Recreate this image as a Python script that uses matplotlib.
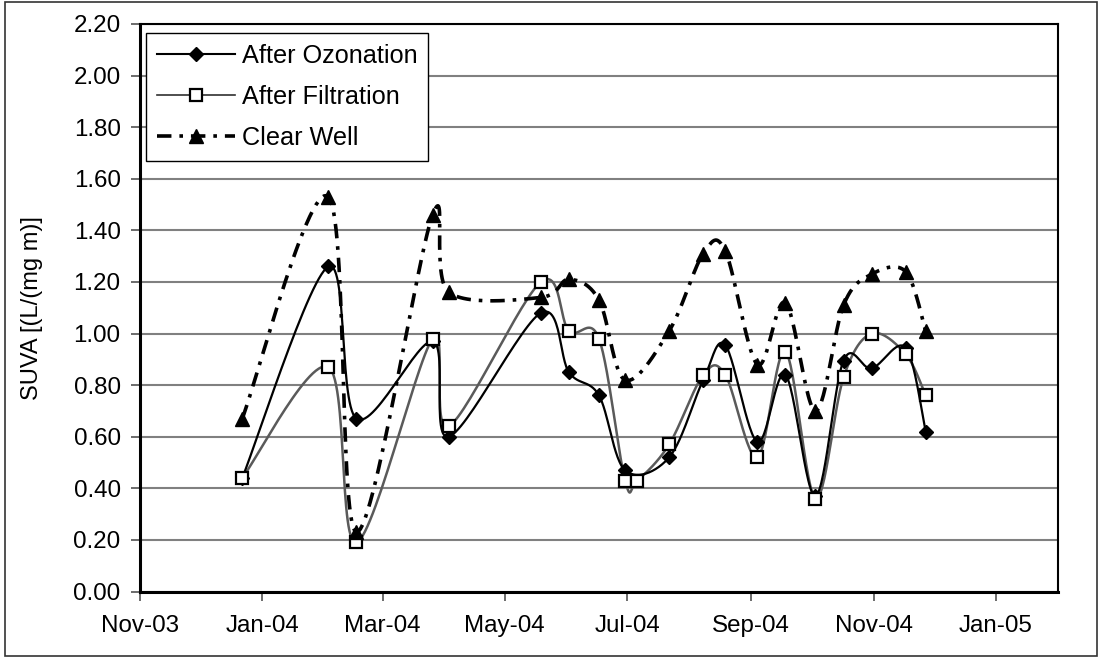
import numpy as np
import matplotlib
matplotlib.use("Agg")
import matplotlib.pyplot as plt
import matplotlib.dates as mdates
from matplotlib.lines import Line2D
from matplotlib.patches import Rectangle

plt.rcParams['font.family'] = ['Liberation Sans', 'DejaVu Sans']

dates = ['2003-12-22', '2004-02-03', '2004-02-17', '2004-03-26', '2004-04-03',
         '2004-05-19', '2004-06-02', '2004-06-17', '2004-06-30', '2004-07-22',
         '2004-08-08', '2004-08-19', '2004-09-04', '2004-09-18', '2004-10-03',
         '2004-10-17', '2004-10-31', '2004-11-17', '2004-11-27']
filt_dates = ['2003-12-22', '2004-02-03', '2004-02-17', '2004-03-26', '2004-04-03',
              '2004-05-19', '2004-06-02', '2004-06-17', '2004-06-30', '2004-07-06',
              '2004-07-22', '2004-08-08', '2004-08-19', '2004-09-04', '2004-09-18',
              '2004-10-03', '2004-10-17', '2004-10-31', '2004-11-17', '2004-11-27']

after_ozonation = [0.44, 1.26, 0.67, 0.97, 0.60, 1.08, 0.85, 0.76, 0.47, 0.52,
                   0.82, 0.955, 0.58, 0.84, 0.37, 0.895, 0.865, 0.945, 0.62]
after_filtration = [0.44, 0.87, 0.19, 0.98, 0.64, 1.20, 1.01, 0.98, 0.43, 0.43,
                    0.57, 0.84, 0.84, 0.52, 0.93, 0.36, 0.83, 1.00, 0.92, 0.76]
clear_well = [0.67, 1.53, 0.23, 1.46, 1.16, 1.14, 1.21, 1.13, 0.82, 1.01,
              1.31, 1.32, 0.88, 1.12, 0.70, 1.11, 1.23, 1.24, 1.01]

labels = ['After Ozonation', 'After Filtration', 'Clear Well']
y_label = 'SUVA [(L/(mg m)]'

fig = plt.figure(figsize=(11.02, 6.58), dpi=100)
ax = fig.add_axes([140 / 1102, 1 - 591.5 / 658, (1058 - 140) / 1102, (591.5 - 24) / 658])

x_min = mdates.datestr2num('2003-11-01')
x_max = mdates.datestr2num('2005-02-01')
ax.set_xlim(x_min, x_max)
ax.set_ylim(0, 2.2)


def smooth(xd, yd, n=30):
    """Excel-like smoothed line: Catmull-Rom Bezier computed in display space."""
    pts = ax.transData.transform(np.column_stack([xd, yd]))
    out = []
    m = len(pts)
    for i in range(m - 1):
        p0 = pts[max(i - 1, 0)]
        p1 = pts[i]
        p2 = pts[i + 1]
        p3 = pts[min(i + 2, m - 1)]
        c1 = p1 + (p2 - p0) / 6.0
        c2 = p2 - (p3 - p1) / 6.0
        t = np.linspace(0, 1, n)[:, None]
        seg = ((1 - t) ** 3) * p1 + 3 * ((1 - t) ** 2) * t * c1 + 3 * (1 - t) * t ** 2 * c2 + t ** 3 * p2
        if i > 0:
            seg = seg[1:]
        out.append(seg)
    out = np.vstack(out)
    d = ax.transData.inverted().transform(out)
    return d[:, 0], d[:, 1]


xo = mdates.datestr2num(dates)
xf = mdates.datestr2num(filt_dates)

# grid
ax.set_yticks(np.arange(0, 2.2001, 0.2))
ax.yaxis.grid(True, color='#808080', linewidth=1.5)
ax.set_axisbelow(True)

cw_style = (0, (4, 2.2, 1, 2.2))

sx, sy = smooth(xf, after_filtration)
ax.plot(sx, sy, color='#5a5a5a', linewidth=1.8, zorder=3)
sx, sy = smooth(xo, after_ozonation)
ax.plot(sx, sy, color='black', linewidth=1.6, zorder=4)
sx, sy = smooth(xo, clear_well)
ax.plot(sx, sy, color='black', linewidth=2.6, linestyle=cw_style, zorder=5)

ax.plot(xo, after_ozonation, linestyle='none', marker='D', markersize=7.5,
        color='black', zorder=6)
ax.plot(xf, after_filtration, linestyle='none', marker='s', markersize=8.5,
        markerfacecolor='white', markeredgecolor='black', markeredgewidth=1.6, zorder=6)
ax.plot(xo, clear_well, linestyle='none', marker='^', markersize=10,
        color='black', zorder=7)

ax.xaxis.set_major_locator(mdates.MonthLocator(bymonth=[1, 3, 5, 7, 9, 11]))
ax.xaxis.set_major_formatter(mdates.DateFormatter('%b-%y'))
ax.yaxis.set_major_formatter(matplotlib.ticker.FormatStrFormatter('%.2f'))

ax.tick_params(axis='both', labelsize=17.4, direction='out', length=6.5, width=1.3,
               color='#606060')
ax.tick_params(axis='x', pad=10.5)
ax.tick_params(axis='y', pad=7.5)
for s in ax.spines.values():
    s.set_color('black')
    s.set_linewidth(1.5)
ax.spines['left'].set_linewidth(2.2)
ax.spines['bottom'].set_linewidth(2.2)

ax.set_ylabel(y_label, fontsize=17, labelpad=22)

handles = [
    Line2D([], [], color='black', linewidth=1.5, marker='D', markersize=7.5),
    Line2D([], [], color='#303030', linewidth=1.2, marker='s', markersize=8.5,
           markerfacecolor='white', markeredgecolor='black', markeredgewidth=1.6),
    Line2D([], [], color='black', linewidth=2.6, linestyle=cw_style, marker='^', markersize=10),
]
leg = ax.legend(handles, labels, loc='upper left', bbox_to_anchor=(0.0065, 0.984),
                borderaxespad=0, fontsize=18.2, frameon=True, fancybox=False,
                edgecolor='black', framealpha=1, handlelength=3.1, labelspacing=0.68,
                handletextpad=0.27, borderpad=0.42)
leg.get_frame().set_linewidth(1.0)
leg.set_zorder(10)

fig.patches.append(Rectangle((5 / 1102, 2 / 658), 1092 / 1102, 654 / 658,
                             transform=fig.transFigure, fill=False,
                             edgecolor='#333333', linewidth=1.2))

fig.savefig('out.png', dpi=100)
